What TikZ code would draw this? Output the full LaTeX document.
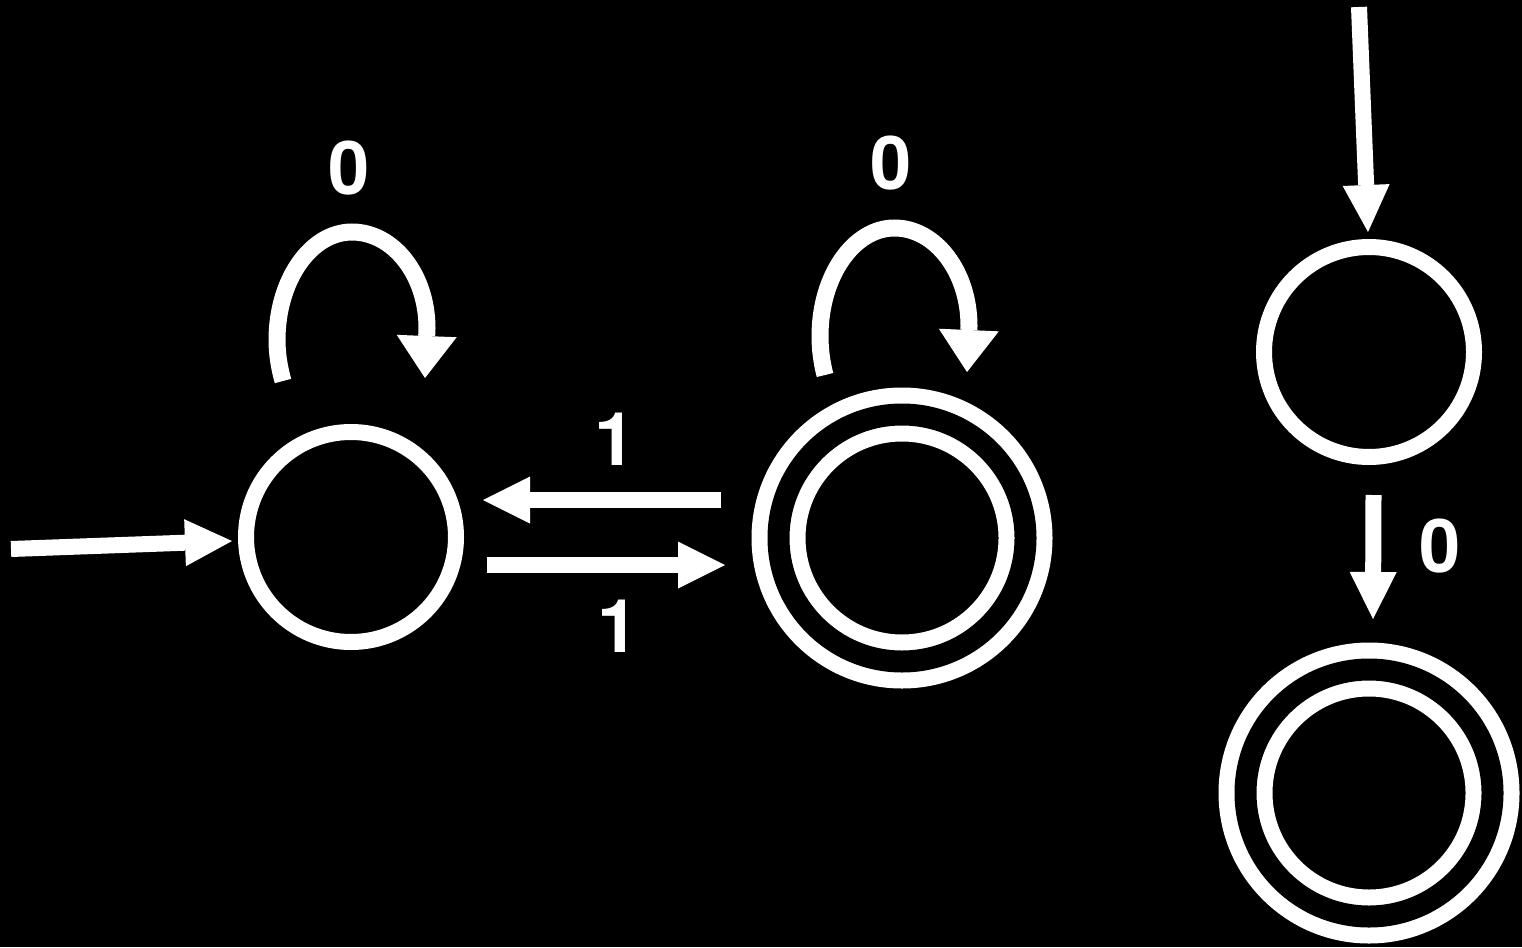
\documentclass[tikz,border=0pt]{standalone}
\usepackage{fontspec}
\setmainfont{TeX Gyre Heros}
\usetikzlibrary{arrows.meta}
\tikzset{
  state/.style={circle, draw=white, line width=16pt, minimum size=210pt, inner sep=0pt, outer sep=0pt},
  accept/.style={state, double=black, double distance=22pt, minimum size=247pt},
  arr/.style={draw=white, line width=16pt, -{Triangle[length=47pt,width=47pt,line width=0pt]}},
  selfloop/.style={draw=white, line width=17pt, -{Triangle[length=42pt,width=60pt,line width=0pt]}},
  lbl/.style={text=white, font=\fontsize{74}{74}\selectfont\bfseries, anchor=base, inner sep=0pt}
}
\begin{document}
\begin{tikzpicture}[x=1pt,y=-1pt]
\fill[black] (0,0) rectangle (1522,947);
\useasboundingbox (0,0) rectangle (1522,947);

% states
\node[state]  (A) at (351,537) {};
\node[accept] (B) at (902,538) {};
\node[state]  (C) at (1369,352) {};
\node[accept] (D) at (1369,793) {};

% start arrows
\coordinate (Ain) at (11,549);
\coordinate (Cin) at (1359,7);
\draw[arr] (Ain) -- ([shift={(-14,4)}]A.west);
\draw[arr] (Cin) -- ([shift={(-1,-15)}]C.north);

% A <-> B
\draw[arr] ([shift={(-57.5,-38)}]B.west) -- ([shift={(27,-37)}]A.east);
\draw[arr] ([shift={(31,28)}]A.east) -- ([shift={(-53.5,27)}]B.west);

% C -> D
\draw[arr] ([shift={(4.5,38)}]C.south) -- ([shift={(4,-50.5)}]D.north);

% self loops
\coordinate (Als) at (283,381);
\coordinate (Ale) at (425,378);
\draw[selfloop] (Als) .. controls (279.3,368) and (277,354) .. (277,340)
  .. controls (277,280.4) and (310.6,232) .. (352,232)
  .. controls (393.4,232) and (427,275) .. (427,328) -- (Ale);
\coordinate (Bls) at (825,375);
\coordinate (Ble) at (967,372);
\draw[selfloop] (Bls) .. controls (821.7,362.5) and (820,349.4) .. (820,336)
  .. controls (820,276.4) and (853.4,228) .. (894.5,228)
  .. controls (935.6,228) and (969,272) .. (969,326) -- (Ble);

% labels
\node[lbl] (l0a) at (349,194) {0};
\node[lbl] (l0b) at (891,189) {0};
\node[lbl] (l1t) at (615,465) {1};
\node[lbl] (l1b) at (618,652) {1};
\node[lbl] (l0c) at (1440,572) {0};
\end{tikzpicture}
\end{document}
